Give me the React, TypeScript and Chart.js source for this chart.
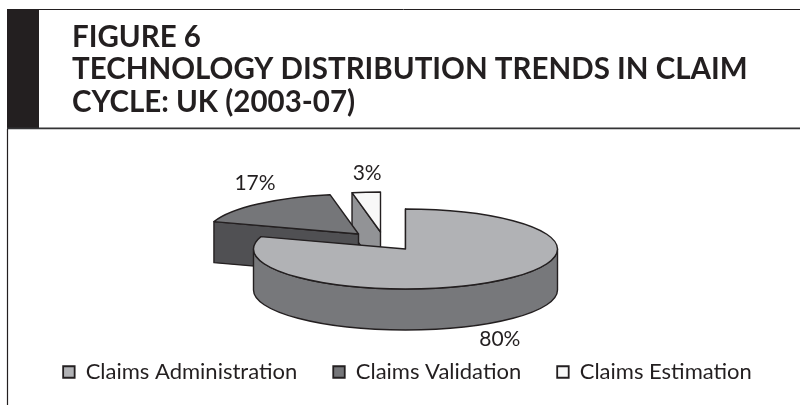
import React, { useEffect, useRef } from "react";
import { Chart, registerables } from "chart.js";

Chart.register(...registerables);

const titleLines = ["FIGURE 6", "TECHNOLOGY DISTRIBUTION TRENDS IN CLAIM", "CYCLE: UK (2003-07)"];
const categories = ["Claims Administration", "Claims Validation", "Claims Estimation"];
const shares = [80, 17, 3];
const topColors = ["#b1b2b5", "#757679", "#f8f8f8"];
const wallColors = ["#77787b", "#505053", "#929396"];

const INK = "#231f20";
const RADIUS = 152;
const SQUASH = 40 / 152;
const DEPTH = 41;
const EXPLODE = [[0, 0], [-47, -15], [-25, -17]];
const LABEL_SHIFT = [[5, 17], [-3, -21], [1, -19]];
const LEGEND_PADDING = 36;
const LEGEND_FONT = 22;

const pie3d = {
  id: "pie3d",
  beforeDraw(chart: any) {
    const { ctx, width } = chart;
    ctx.save();
    ctx.fillStyle = "#ffffff";
    ctx.fillRect(0, 0, width, chart.height);
    ctx.fillStyle = INK;
    ctx.fillRect(7, 9, 32, 120);
    ctx.strokeStyle = INK;
    ctx.lineWidth = 1;
    ctx.beginPath();
    ctx.moveTo(7, 9.5);
    ctx.lineTo(width, 9.5);
    ctx.stroke();
    ctx.lineWidth = 1.6;
    ctx.strokeStyle = "#333335";
    ctx.beginPath();
    ctx.moveTo(7, 128.4);
    ctx.lineTo(width, 128.4);
    ctx.stroke();
    ctx.lineWidth = 1.2;
    ctx.strokeStyle = INK;
    ctx.beginPath();
    ctx.moveTo(7.5, 129);
    ctx.lineTo(7.5, chart.height);
    ctx.stroke();
    ctx.restore();
  },
  afterLayout(chart: any) {
    chart.titleBlock.left = 72;
    chart.titleBlock.right = 800;
    const lg = chart.legend;
    const h = lg.bottom - lg.top;
    lg.top = 372 - LEGEND_PADDING - LEGEND_FONT / 2;
    lg.bottom = lg.top + h;
    lg.left += 2;
    lg.right += 2;
  },
  beforeDatasetsDraw(chart: any) {
    const { ctx } = chart;
    const arcs = chart.getDatasetMeta(0).data;
    const rimY = RADIUS * SQUASH;
    for (let i = arcs.length - 1; i >= 0; i--) {
      const el = arcs[i];
      const [dx, dy] = EXPLODE[i];
      const cx = el.x + dx;
      const cy = el.y + dy;
      const a0 = el.startAngle;
      const a1 = el.endAngle;
      const R = el.outerRadius;
      const k = SQUASH;
      ctx.save();
      ctx.lineWidth = 1.4;
      ctx.strokeStyle = INK;
      ctx.lineJoin = "round";
      ctx.fillStyle = wallColors[i];
      // cut face along the slice's starting edge
      const sx = cx + Math.cos(a0) * R;
      const sy = cy + Math.sin(a0) * R * k;
      ctx.beginPath();
      ctx.moveTo(cx, cy);
      ctx.lineTo(sx, sy);
      ctx.lineTo(sx, sy + DEPTH);
      ctx.lineTo(cx, cy + DEPTH);
      ctx.closePath();
      ctx.fill();
      ctx.stroke();
      // visible rim: the front half of the ellipse
      const from = Math.max(a0, 0);
      const to = Math.min(a1, Math.PI);
      if (to > from) {
        ctx.beginPath();
        ctx.ellipse(cx, cy, R, R * k, 0, from, to);
        ctx.ellipse(cx, cy + DEPTH, R, R * k, 0, to, from, true);
        ctx.closePath();
        ctx.fill();
        ctx.stroke();
      }
      // top face, filled by the library's own arc element
      ctx.save();
      ctx.translate(cx, cy);
      ctx.scale(1, k);
      ctx.translate(-el.x, -el.y);
      el.draw(ctx);
      ctx.restore();
      ctx.beginPath();
      ctx.moveTo(cx, cy);
      ctx.ellipse(cx, cy, R, R * k, 0, a0, a1);
      ctx.closePath();
      ctx.stroke();
      // label
      const mid = (a0 + a1) / 2;
      const my = Math.sin(mid) * rimY;
      const lx = cx + Math.cos(mid) * R + LABEL_SHIFT[i][0];
      const ly = cy + my + (my > 0 ? DEPTH : 0) + LABEL_SHIFT[i][1];
      ctx.fillStyle = INK;
      ctx.font = "21px Lato";
      ctx.textAlign = "center";
      ctx.textBaseline = "middle";
      ctx.fillText(shares[i] + "%", lx, ly);
      ctx.restore();
    }
    return false;
  },
};

export default function App() {
  const ref = useRef<HTMLCanvasElement>(null);
  useEffect(() => {
    const chart = new Chart(ref.current as HTMLCanvasElement, {
      type: "pie",
      data: {
        labels: categories,
        datasets: [{ data: shares, backgroundColor: topColors, borderWidth: 0 }],
      },
      plugins: [pie3d],
      options: {
        animation: false,
        responsive: false,
        radius: RADIUS,
        layout: { padding: { top: 21, left: 11, right: 0, bottom: 0 } },
        plugins: {
          tooltip: { enabled: false },
          title: {
            display: true,
            text: titleLines,
            align: "start",
            color: INK,
            font: { family: "Lato", size: 29.5, weight: "bold", lineHeight: 32.5 / 29.5 },
            padding: { top: 0, bottom: 42.5 },
          },
          legend: {
            position: "bottom",
            labels: {
              color: INK,
              boxWidth: 11.5,
              boxHeight: 11.5,
              padding: LEGEND_PADDING,
              font: { family: "Lato", size: LEGEND_FONT },
              generateLabels: (c: any) =>
                (Chart as any).overrides.pie.plugins.legend.labels.generateLabels(c).map((it: any) => ({
                  ...it,
                  lineWidth: 1.8,
                  strokeStyle: INK,
                })),
            },
          },
        },
      } as any,
    });
    return () => chart.destroy();
  }, []);
  return (
    <canvas
      ref={ref}
      width={800}
      height={405}
      style={{ position: "fixed", left: 0, top: 0, width: 800, height: 405, display: "block" }}
    />
  );
}
